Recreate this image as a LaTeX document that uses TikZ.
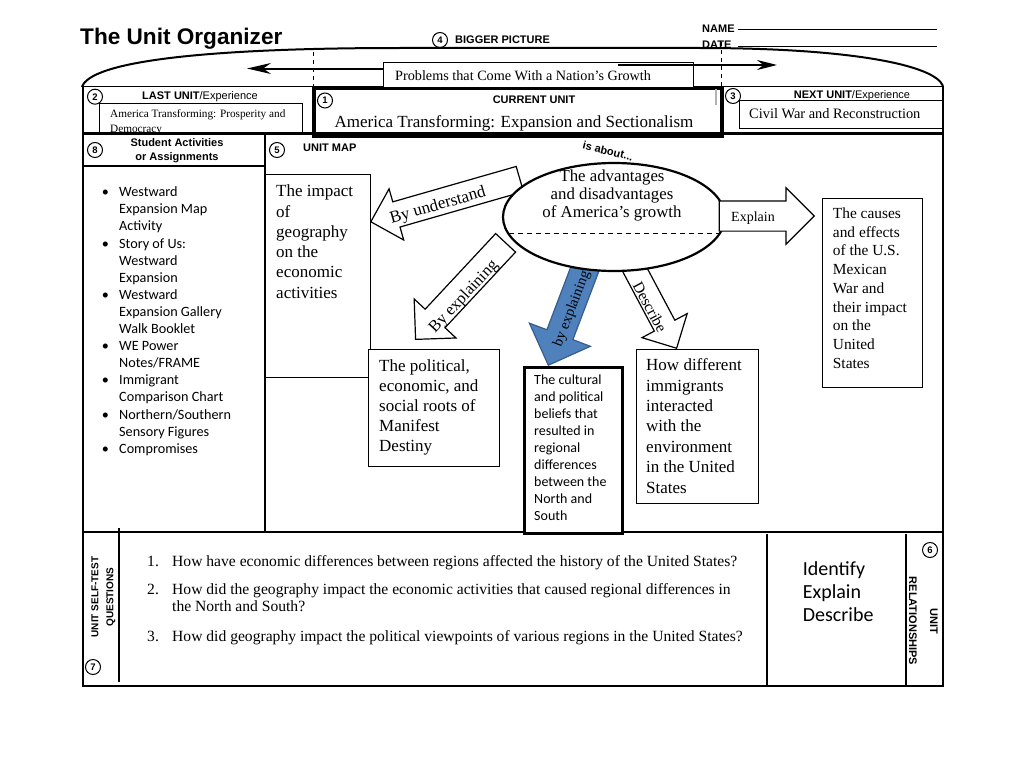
\documentclass[tikz,border=0pt]{standalone}
\usepackage{fontspec}
\setmainfont{Liberation Serif}
\newfontfamily\arialf{Liberation Sans}
\newfontfamily\calfont{Carlito}
\usetikzlibrary{shapes.geometric,shapes.arrows,arrows.meta}
\newcommand\fsz[2]{\fontsize{#1}{#2}\selectfont}
\newcommand\bul{\makebox[17.3pt][l]{\textbullet}}
\newcommand\ind{\hspace*{17.3pt}}
\definecolor{arrowblue}{RGB}{79,129,189}
\definecolor{arrowblueline}{RGB}{56,93,138}
\tikzset{
  num/.style={circle, draw, line width=1pt, inner sep=0pt, minimum size=15pt, font=\arialf\bfseries\fsz{9.5}{10}},
  lbl/.style={font=\arialf\bfseries\fsz{11}{13}, inner sep=0pt},
  box/.style={draw, line width=1.2pt, inner sep=0pt, anchor=north west, fill=white},
  txt/.style={inner sep=0pt, anchor=base west},
  blk/.style={single arrow, draw, line width=1.2pt, fill=white, inner sep=0pt, single arrow tip angle=90, anchor=tip},
  outl/.style={line width=2pt},
  qf/.style={txt, font=\fsz{15.6}{16.5}},
}
\begin{document}
\begin{tikzpicture}[x=1pt,y=-1pt]
\useasboundingbox (0,0) rectangle (1024,768);

% header
\node[txt, font=\arialf\bfseries\fsz{22.6}{26}] (title) at (80,45) {The Unit Organizer};
\node[num] (n4) at (440,40) {4};
\node[lbl, anchor=base west] (big) at (455,44) {BIGGER PICTURE};
\node[lbl, anchor=base west] (name) at (702,32.3) {NAME};
\node[lbl, anchor=base west] (date) at (702,48.3) {DATE};
\coordinate (nl1) at (738,30); \coordinate (nl2) at (937,30);
\coordinate (dl1) at (738,47); \coordinate (dl2) at (937,47);
\draw[line width=1pt] (nl1) -- (nl2);
\draw[line width=1pt] (dl1) -- (dl2);

% top curve and frame
\draw[line width=2pt] (82,87) .. controls (90,62) and (200,48) .. (400,48) -- (700,48) .. controls (850,48) and (935,65) .. (943,86);
\draw[line width=1pt] (83,86) -- (943,86);
\draw[dashed, line width=1pt, dash pattern=on 4pt off 4pt] (313,52) -- (313,86);
\draw[dashed, line width=1pt, dash pattern=on 4pt off 4pt] (721,42) -- (721,86);

% bigger picture box and arrows
\node[box, line width=1pt, minimum width=310pt, minimum height=27pt] (prob) at (383,61.5) {};
\node[txt, font=\fsz{14.2}{16}] (probt) at (395,80) {Problems that Come With a Nation’s Growth};
\coordinate (ls) at (383,68.5); \coordinate (lt) at (247,68.5);
\coordinate (rs) at (618,65); \coordinate (rt) at (777,65);
\draw[line width=2pt, -{Stealth[length=24pt,width=11pt]}] (ls) -- (lt);
\draw[line width=2pt, -{Stealth[length=20pt,width=10pt]}] (rs) -- (rt);

% last unit
\node[box, line width=1pt, minimum width=203pt, minimum height=31pt] (lastbox) at (99,103) {};
\node[txt, font=\fsz{11.25}{15}] (lastt) at (110,117.3) {\begin{tabular}[t]{@{}l@{}}America Transforming: Prosperity and\\Democracy\end{tabular}};
\node[txt, anchor=base, font=\arialf\fsz{11}{13}] (lastl) at (200,99.3) {\textbf{LAST UNIT}/Experience};
\node[num] (n2) at (95,96.7) {2};

% current unit
\node[box, line width=3.5pt, minimum width=408pt, minimum height=48pt] (curbox) at (312,86.5) {};
\draw[gray!60, line width=2pt] (716,89) -- (716,105);
\node[lbl, anchor=base] (curl) at (534,103) {CURRENT UNIT};
\node[txt, anchor=base, font=\fsz{17}{20}] (curt) at (514,127) {America Transforming: Expansion and Sectionalism};
\node[num] (n1) at (325,100.5) {1};

% next unit
\node[box, line width=1pt, minimum width=204pt, minimum height=28pt] (nextbox) at (739,100) {};
\node[txt, font=\fsz{14.4}{16}] (nextt) at (749,118.3) {Civil War and Reconstruction};
\node[txt, anchor=base, font=\arialf\fsz{11}{13}] (nextl) at (852,98.3) {\textbf{NEXT UNIT}/Experience};
\node[num] (n3) at (733,96) {3};

% main frame lines
\draw[outl] (83,86) -- (83,686) -- (943,686) -- (943,86);
\draw[line width=2.5pt] (83,133.5) -- (943,133.5);
\draw[line width=2pt] (265,133.5) -- (265,532);
\draw[line width=1.5pt] (83,166) -- (265,166);
\draw[line width=2.5pt] (83,532) -- (943,532);
\draw[line width=1.2pt] (119,528) -- (119,682);
\draw[line width=2pt] (767,534) -- (767,686);
\draw[line width=1.5pt] (906,534) -- (906,686);

% student activities
\node[num] (n8) at (95,150) {8};
\node[txt, anchor=base, font=\arialf\bfseries\fsz{11}{13.3}] (acth) at (177,146.7) {\begin{tabular}[t]{@{}c@{}}Student Activities\\or Assignments\end{tabular}};
\node[txt, font=\calfont\fsz{14.2}{17.1}] (acts) at (101.7,196.7) {\begin{tabular}[t]{@{}l@{}}
\bul Westward\\ \ind Expansion Map\\ \ind Activity\\
\bul Story of Us:\\ \ind Westward\\ \ind Expansion\\
\bul Westward\\ \ind Expansion Gallery\\ \ind Walk Booklet\\
\bul WE Power\\ \ind Notes/FRAME\\
\bul Immigrant\\ \ind Comparison Chart\\
\bul Northern/Southern\\ \ind Sensory Figures\\
\bul Compromises\end{tabular}};

% unit map
\node[num] (n5) at (277,150) {5};
\node[lbl, anchor=base west] (umap) at (303,151.7) {UNIT MAP};

\node[box, minimum width=105pt, minimum height=203pt] (impact) at (265,174) {};
\node[txt, font=\fsz{17}{20.3}] (impt) at (276,196.7) {\begin{tabular}[t]{@{}l@{}}The impact\\of\\geography\\on the\\economic\\activities\end{tabular}};

\node[box, minimum width=131pt, minimum height=117pt] (polit) at (368,349) {};
\node[txt, font=\fsz{17}{20}] (politt) at (379,371.7) {\begin{tabular}[t]{@{}l@{}}The political,\\economic, and\\social roots of\\Manifest\\Destiny\end{tabular}};

\node[box, line width=2.5pt, minimum width=98pt, minimum height=166pt] (cult) at (523,366) {};
\node[txt, font=\calfont\fsz{14}{17}] (cultt) at (534,384.3) {\begin{tabular}[t]{@{}l@{}}The cultural\\and political\\beliefs that\\resulted in\\regional\\differences\\between the\\North and\\South\end{tabular}};

\node[box, minimum width=122pt, minimum height=154pt] (howd) at (636,349) {};
\node[txt, font=\fsz{17}{20.4}] (howdt) at (646,370.7) {\begin{tabular}[t]{@{}l@{}}How different\\immigrants\\interacted\\with the\\environment\\in the United\\States\end{tabular}};

\node[box, minimum width=100pt, minimum height=189pt] (cause) at (822,198) {};
\node[txt, font=\fsz{15.4}{18.75}] (causet) at (832.7,218.3) {\begin{tabular}[t]{@{}l@{}}The causes\\and effects\\of the U.S.\\Mexican\\War and\\their impact\\on the\\United\\States\end{tabular}};

% block arrows
\node[blk, rotate=196, minimum height=155pt, inner ysep=12.5pt, single arrow head extend=13.5pt] (a1) at (370,222) {};
\node[blk, rotate=227, minimum height=132pt, inner ysep=13pt, single arrow head extend=15pt] (a2) at (415,340) {};
\node[blk, rotate=249.2, minimum height=110pt, inner ysep=13.3pt, single arrow head extend=18.7pt, fill=arrowblue, draw=arrowblueline] (a3) at (548,366) {};
\node[blk, rotate=-62, minimum height=98pt, inner ysep=11pt, single arrow head extend=14pt] (a4) at (677,349) {};

% ellipse
\node[ellipse, draw, line width=2.2pt, fill=white, minimum width=222pt, minimum height=108pt, inner sep=0pt] (ell) at (614,217) {};
\coordinate (dsh1) at (509,233); \coordinate (dsh2) at (720,233);
\draw[line width=1pt, dash pattern=on 5pt off 4pt] (dsh1) -- (dsh2);
\node[txt, anchor=base, font=\fsz{16.8}{17.8}] (ellt) at (612,181.7) {\begin{tabular}[t]{@{}c@{}}The advantages\\and disadvantages\\of America’s growth\end{tabular}};
\node[rotate=-14, font=\arialf\bfseries\fsz{11}{13}, inner sep=0pt] (about) at (608,151) {is about...};

\node[blk, rotate=0, minimum height=95pt, inner ysep=14.5pt, single arrow head extend=13pt] (a5) at (815,216) {};

% arrow texts
\node[rotate=16, font=\fsz{17}{20}, inner sep=0pt] (t1) at (438,206) {By understand};
\node[rotate=47, font=\fsz{16.5}{20}, inner sep=0pt] (t2) at (464,297) {By explaining};
\node[rotate=69, font=\fsz{14.5}{17}, inner sep=0pt] (t3) at (572,309) {by explaining};
\node[rotate=-62, font=\fsz{15.5}{18}, inner sep=0pt] (t4) at (650,307) {Describe};
\node[txt, font=\fsz{14}{16}] (t5) at (731,221.7) {Explain};

% self-test questions
\node[rotate=90, anchor=base, inner sep=0pt, font=\arialf\bfseries\fsz{10}{15}] (selft) at (98.3,597) {\begin{tabular}[t]{@{}c@{}}UNIT SELF-TEST\\QUESTIONS\end{tabular}};
\node[num] (n7) at (93,667) {7};
\node[qf] (q1n) at (147,566) {1.};
\node[qf] (q1) at (172,566) {How have economic differences between regions affected the history of the United States?};
\node[qf] (q2n) at (147,594.5) {2.};
\node[qf] (q2) at (172,594.5) {\begin{tabular}[t]{@{}l@{}}How did the geography impact the economic activities that caused regional differences in\\the North and South?\end{tabular}};
\node[qf] (q3n) at (147,641) {3.};
\node[qf] (q3) at (172,641) {How did geography impact the political viewpoints of various regions in the United States?};

% unit relationships
\node[txt, font=\calfont\fsz{20}{23.3}] (rel) at (802.7,575) {\begin{tabular}[t]{@{}l@{}}Identify\\Explain\\Describe\end{tabular}};
\node[rotate=-90, anchor=base, inner sep=0pt, font=\arialf\bfseries\fsz{11}{21}] (urel) at (930,621) {\begin{tabular}[t]{@{}c@{}}UNIT\\RELATIONSHIPS\end{tabular}};
\node[num] (n6) at (930,550) {6};
\end{tikzpicture}
\end{document}
